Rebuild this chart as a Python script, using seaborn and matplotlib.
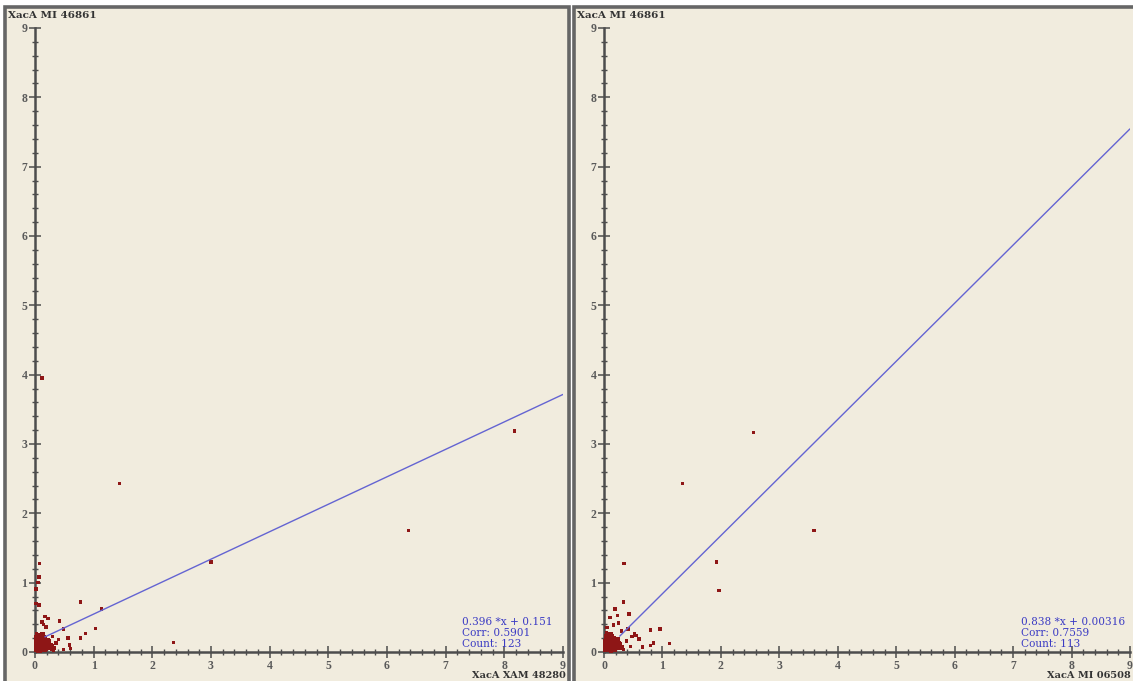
import numpy as np
import pandas as pd
import matplotlib
matplotlib.use("Agg")
import matplotlib.pyplot as plt
from matplotlib.patches import Rectangle
from matplotlib.ticker import MultipleLocator
import seaborn as sns

# ---- data: left panel (XacA XAM 48280 vs XacA MI 46861) ----
left_x = [0.12, 1.44, 8.17, 6.37, 3.00, 2.36, 1.13, 0.78, 0.08, 0.07,
          0.05, 0.02, 0.02, 0.07, 0.42, 0.17, 0.12, 0.19, 0.49, 1.03,
          0.86, 0.78, 0.56, 0.59, 0.61, 0.49, 0.36, 0.22, 0.14, 0.30,
          0.40, 0.28, 0.33,
          0.01, 0.03, 0.05, 0.02, 0.08, 0.04, 0.06, 0.10, 0.12, 0.03,
          0.07, 0.09, 0.11, 0.14, 0.02, 0.05, 0.13, 0.16, 0.04, 0.08,
          0.18, 0.06, 0.10, 0.15, 0.20, 0.01, 0.12, 0.07, 0.22, 0.09,
          0.03, 0.17, 0.05, 0.11, 0.24, 0.14, 0.02, 0.19, 0.08, 0.26,
          0.06, 0.13, 0.21, 0.04, 0.10, 0.16, 0.28, 0.01, 0.12, 0.07,
          0.23, 0.15, 0.03, 0.09, 0.18, 0.05, 0.30, 0.11, 0.20, 0.02,
          0.14, 0.08, 0.25, 0.06, 0.17, 0.04, 0.27, 0.10, 0.13, 0.01,
          0.21, 0.07, 0.16, 0.03, 0.12, 0.19, 0.05, 0.09, 0.32, 0.15,
          0.02, 0.11, 0.24, 0.06, 0.18, 0.08, 0.14, 0.04, 0.29, 0.10]
left_y = [3.95, 2.43, 3.19, 1.75, 1.30, 0.14, 0.62, 0.72, 1.28, 1.08,
          1.00, 0.91, 0.70, 0.68, 0.45, 0.51, 0.43, 0.36, 0.33, 0.34,
          0.27, 0.20, 0.20, 0.10, 0.05, 0.04, 0.13, 0.48, 0.40, 0.22,
          0.18, 0.10, 0.06,
          0.02, 0.05, 0.01, 0.10, 0.03, 0.14, 0.07, 0.04, 0.09, 0.18,
          0.12, 0.20, 0.02, 0.06, 0.22, 0.16, 0.13, 0.03, 0.25, 0.08,
          0.07, 0.11, 0.15, 0.18, 0.04, 0.06, 0.21, 0.24, 0.10, 0.01,
          0.08, 0.12, 0.19, 0.26, 0.06, 0.02, 0.13, 0.16, 0.17, 0.08,
          0.03, 0.23, 0.12, 0.11, 0.09, 0.05, 0.04, 0.16, 0.14, 0.06,
          0.18, 0.10, 0.21, 0.13, 0.02, 0.24, 0.07, 0.19, 0.09, 0.04,
          0.15, 0.22, 0.13, 0.01, 0.20, 0.08, 0.11, 0.17, 0.03, 0.12,
          0.05, 0.15, 0.14, 0.27, 0.07, 0.11, 0.09, 0.25, 0.03, 0.22,
          0.19, 0.10, 0.16, 0.13, 0.05, 0.01, 0.26, 0.20, 0.09, 0.12]

# ---- data: right panel (XacA MI 06508 vs XacA MI 46861) ----
right_x = [2.56, 1.34, 3.59, 1.92, 1.97, 0.34, 0.33, 0.19, 0.43, 0.23,
           0.10, 0.16, 0.05, 0.41, 0.80, 0.96, 0.52, 0.60, 0.85, 0.80,
           1.12, 0.66, 0.48, 0.55, 0.30, 0.38, 0.45, 0.25,
           0.02, 0.04, 0.06, 0.01, 0.09, 0.05, 0.07, 0.11, 0.13, 0.03,
           0.08, 0.10, 0.12, 0.15, 0.03, 0.06, 0.14, 0.17, 0.05, 0.09,
           0.19, 0.07, 0.11, 0.16, 0.21, 0.02, 0.13, 0.08, 0.23, 0.10,
           0.04, 0.18, 0.06, 0.12, 0.25, 0.15, 0.01, 0.20, 0.09, 0.27,
           0.07, 0.14, 0.22, 0.05, 0.11, 0.17, 0.29, 0.02, 0.13, 0.08,
           0.24, 0.16, 0.04, 0.10, 0.19, 0.06, 0.31, 0.12, 0.21, 0.03,
           0.15, 0.09, 0.26, 0.07, 0.18, 0.05, 0.28, 0.11, 0.14, 0.02,
           0.22, 0.08, 0.17, 0.04, 0.13, 0.20, 0.06, 0.10, 0.33,
           0.16, 0.03, 0.12, 0.25, 0.07, 0.19]
right_y = [3.17, 2.43, 1.75, 1.30, 0.89, 1.28, 0.72, 0.62, 0.55, 0.53,
           0.50, 0.39, 0.35, 0.33, 0.32, 0.33, 0.27, 0.19, 0.13, 0.09,
           0.12, 0.07, 0.22, 0.24, 0.30, 0.16, 0.08, 0.42,
           0.03, 0.06, 0.02, 0.11, 0.04, 0.15, 0.08, 0.05, 0.10, 0.19,
           0.13, 0.21, 0.03, 0.07, 0.23, 0.17, 0.14, 0.04, 0.26, 0.09,
           0.08, 0.12, 0.16, 0.19, 0.05, 0.07, 0.22, 0.25, 0.11, 0.02,
           0.09, 0.13, 0.20, 0.27, 0.07, 0.03, 0.14, 0.17, 0.18, 0.09,
           0.04, 0.24, 0.13, 0.12, 0.10, 0.06, 0.05, 0.17, 0.15, 0.07,
           0.19, 0.11, 0.22, 0.14, 0.03, 0.25, 0.08, 0.20, 0.10, 0.05,
           0.16, 0.23, 0.14, 0.02, 0.21, 0.09, 0.12, 0.18, 0.04, 0.13,
           0.06, 0.16, 0.15, 0.28, 0.08, 0.12, 0.10, 0.26, 0.04,
           0.21, 0.18, 0.01, 0.11, 0.14, 0.06]

# fitted lines and their statistics
left_fit = dict(slope=0.396, intercept=0.151, x_start=0.17,
                label=["0.396 *x + 0.151", "Corr: 0.5901", "Count: 123"])
right_fit = dict(slope=0.838, intercept=0.00316, x_start=0.27,
                 label=["0.838 *x + 0.00316", "Corr: 0.7559", "Count: 113"])

y_title = "XacA MI 46861"
left_xlabel = "XacA XAM 48280"
right_xlabel = "XacA MI 06508"
tick_values = list(range(10))

W, H = 1133, 681
BEIGE = "#F1ECDE"
FRAME = "#666666"
AXIS = "#4d4d4d"
POINT = "#8e1616"
LINE = "#6464d2"
STAT = "#3c3cc4"
WIDE_SERIF = ["DejaVu Serif", "Liberation Serif"]

sns.set_theme(style="white")
plt.rcParams["font.family"] = ["Liberation Serif", "DejaVu Serif"]

fig = plt.figure(figsize=(W / 100, H / 100), dpi=100)
fig.patch.set_facecolor("white")


def frac(x0, y_top, w, h):
    """Pixel box (top-left origin) to figure fraction rect."""
    return [x0 / W, (H - y_top - h) / H, w / W, h / H]


def panel(box, axes_box, xs, ys, fit, xlabel, xlabel_right, stat_x):
    # beige panel with grey frame, kept underneath the axes
    bx, by, bw, bh = box
    fig.patches.append(Rectangle((bx / W, (H - by - bh) / H), bw / W, bh / H,
                                 transform=fig.transFigure, facecolor=BEIGE,
                                 edgecolor=FRAME, linewidth=2.6, zorder=-5))
    ax = fig.add_axes(frac(*axes_box))
    ax.set_zorder(2)
    ax.set_facecolor("none")
    ax.patch.set_alpha(0)
    ax.set_xlim(0, 9)
    ax.set_ylim(0, 9)

    df = pd.DataFrame({"x": xs, "y": ys})
    sns.scatterplot(data=df, x="x", y="y", ax=ax, marker="s", s=6,
                    color=POINT, edgecolor="none", linewidth=0,
                    clip_on=False, zorder=3)

    lx = np.array([fit["x_start"], 9.0])
    line_df = pd.DataFrame({"x": lx, "y": fit["slope"] * lx + fit["intercept"]})
    sns.lineplot(data=line_df, x="x", y="y", ax=ax, color=LINE,
                 linewidth=1.0, zorder=4)

    for s in ("top", "right"):
        ax.spines[s].set_visible(False)
    for s in ("left", "bottom"):
        ax.spines[s].set_color(AXIS)
        ax.spines[s].set_linewidth(1.8)

    ax.set_xticks(tick_values)
    ax.set_yticks(tick_values)
    ax.xaxis.set_minor_locator(MultipleLocator(0.2))
    ax.yaxis.set_minor_locator(MultipleLocator(0.2))
    ax.tick_params(which="both", bottom=True, left=True, top=False,
                   right=False)
    ax.tick_params(which="major", direction="inout", length=8, width=1.1,
                   color=AXIS, labelsize=8.5, labelcolor="#5a5a5a", pad=1.5)
    ax.tick_params(which="minor", direction="inout", length=4, width=1.0,
                   color=AXIS)
    for lab in ax.get_xticklabels() + ax.get_yticklabels():
        lab.set_fontweight("bold")
    ax.set_xlabel("")
    ax.set_ylabel("")

    # axis captions: title at the top-left, x caption at the bottom right
    fig.text((bx + 3) / W, (H - 16) / H, y_title, fontsize=7.5,
             family=WIDE_SERIF, fontweight="bold", color="#333333",
             va="center", ha="left")
    fig.text(xlabel_right / W, (H - 676) / H, xlabel, fontsize=7,
             family=WIDE_SERIF, fontweight="bold", color="#333333",
             va="center", ha="right")

    # regression statistics block
    for i, t in enumerate(fit["label"]):
        fig.text(stat_x / W, (H - (622 + i * 10.8)) / H, t, fontsize=7.6,
                 family=WIDE_SERIF, color=STAT, va="center", ha="left")
    return ax


panel((5, 7, 564, 690), (35, 28, 528, 624), left_x, left_y, left_fit,
      left_xlabel, 566, 462)
panel((574, 7, 580, 690), (604, 28, 526, 624), right_x, right_y, right_fit,
      right_xlabel, 1131, 1021)

fig.savefig("out.png", dpi=100, facecolor=fig.get_facecolor())
